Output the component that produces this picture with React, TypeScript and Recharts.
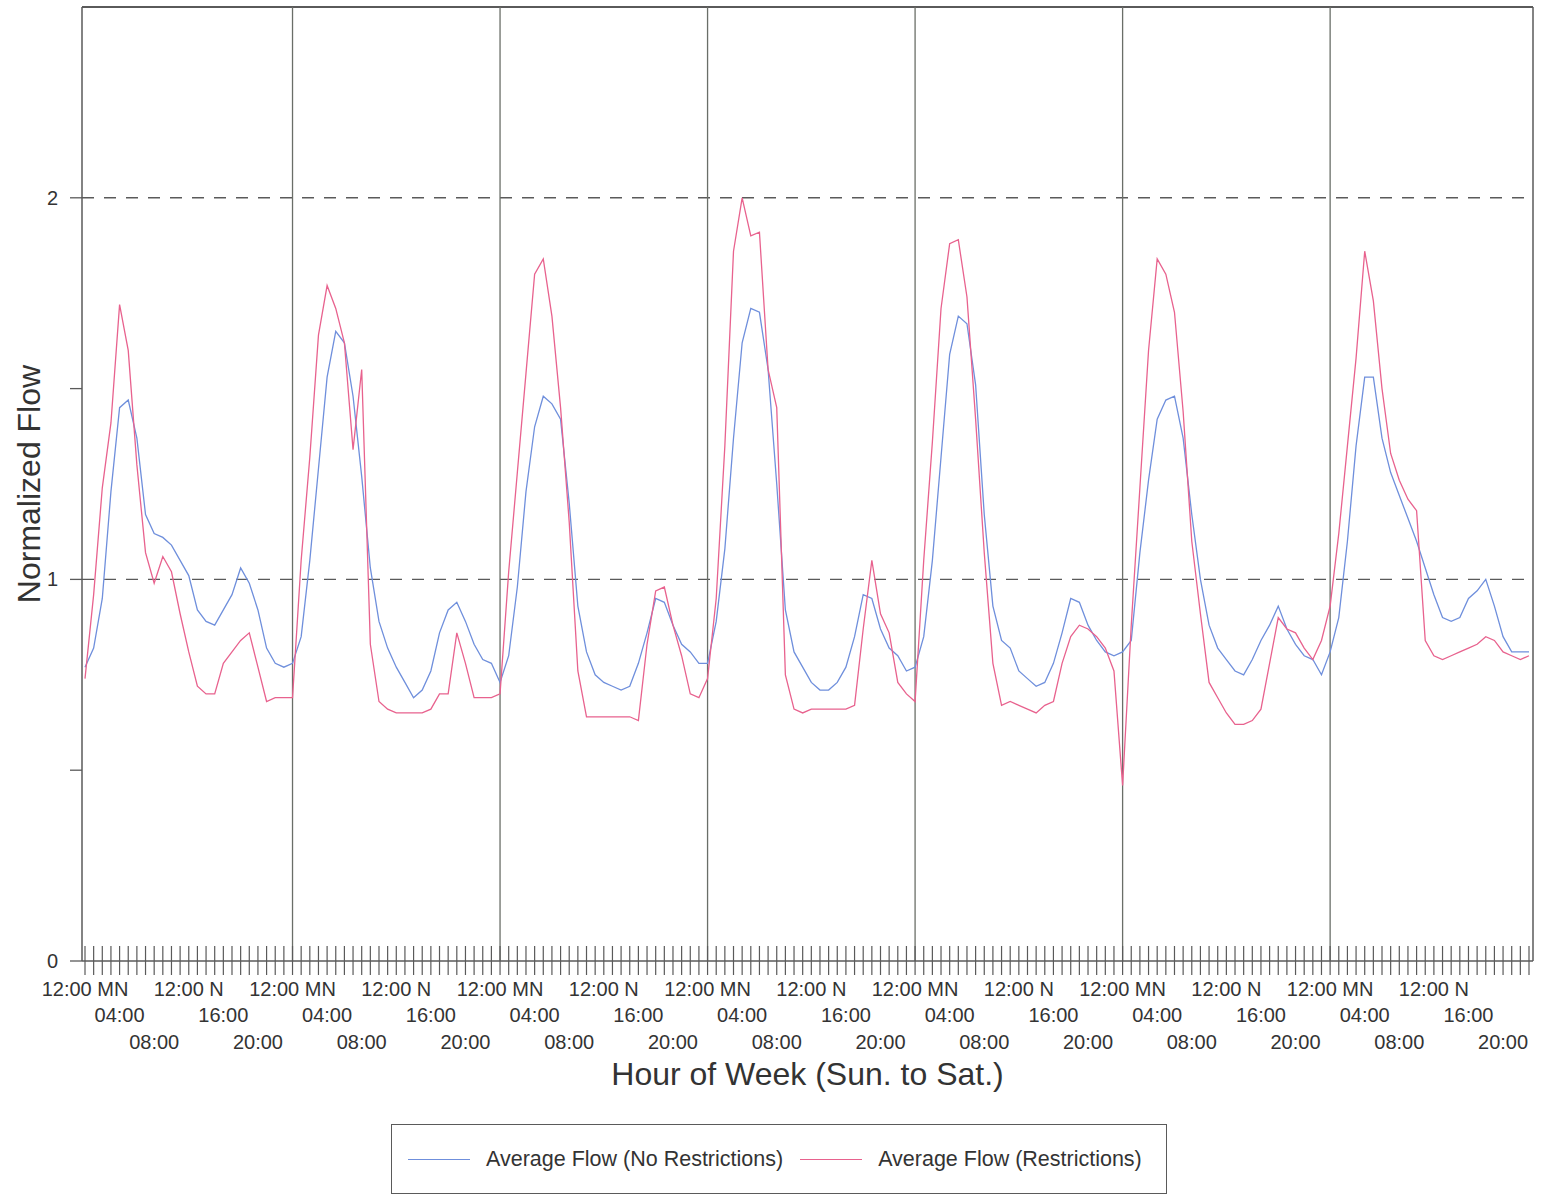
import { LineChart, Line, XAxis, YAxis, ReferenceLine } from "recharts";

// tick labels repeat every 4 hours within each day
const hourLabels = ["12:00 MN", "04:00", "08:00", "12:00 N", "16:00", "20:00"];
const dayStarts = [24, 48, 72, 96, 120, 144];
const flowTicks = [0, 0.5, 1, 1.5, 2];
const flowLabels = [0, 1, 2];
const flowGrid = [1, 2];
const flowMax = 2.5;

const seriesNames = ["Average Flow (No Restrictions)", "Average Flow (Restrictions)"];
const seriesColors = ["#6f8fdc", "#e8628e"];

// hourly normalized flow, Sunday 00:00 .. Saturday 23:00
const noRestrictions = [
  0.77, 0.82, 0.95, 1.23, 1.45, 1.47, 1.37, 1.17, 1.12, 1.11, 1.09, 1.05, 1.01, 0.92, 0.89, 0.88, 0.92, 0.96, 1.03, 0.99, 0.92, 0.82, 0.78, 0.77,
  0.78, 0.85, 1.05, 1.29, 1.53, 1.65, 1.62, 1.48, 1.27, 1.03, 0.89, 0.82, 0.77, 0.73, 0.69, 0.71, 0.76, 0.86, 0.92, 0.94, 0.89, 0.83, 0.79, 0.78,
  0.73, 0.8, 0.98, 1.23, 1.4, 1.48, 1.46, 1.42, 1.2, 0.93, 0.81, 0.75, 0.73, 0.72, 0.71, 0.72, 0.78, 0.86, 0.95, 0.94, 0.88, 0.83, 0.81, 0.78,
  0.78, 0.89, 1.08, 1.37, 1.62, 1.71, 1.7, 1.55, 1.25, 0.92, 0.81, 0.77, 0.73, 0.71, 0.71, 0.73, 0.77, 0.85, 0.96, 0.95, 0.87, 0.82, 0.8, 0.76,
  0.77, 0.85, 1.05, 1.32, 1.59, 1.69, 1.67, 1.51, 1.17, 0.93, 0.84, 0.82, 0.76, 0.74, 0.72, 0.73, 0.78, 0.86, 0.95, 0.94, 0.88, 0.84, 0.81, 0.8,
  0.81, 0.84, 1.07, 1.26, 1.42, 1.47, 1.48, 1.37, 1.17, 1.0, 0.88, 0.82, 0.79, 0.76, 0.75, 0.79, 0.84, 0.88, 0.93, 0.87, 0.83, 0.8, 0.79, 0.75,
  0.81, 0.9, 1.1, 1.35, 1.53, 1.53, 1.37, 1.28, 1.22, 1.16, 1.1, 1.03, 0.96, 0.9, 0.89, 0.9, 0.95, 0.97, 1.0, 0.93, 0.85, 0.81, 0.81, 0.81,
];

const restrictions = [
  0.74, 0.96, 1.24, 1.41, 1.72, 1.6, 1.3, 1.07, 0.99, 1.06, 1.02, 0.91, 0.81, 0.72, 0.7, 0.7, 0.78, 0.81, 0.84, 0.86, 0.77, 0.68, 0.69, 0.69,
  0.69, 1.05, 1.32, 1.64, 1.77, 1.71, 1.62, 1.34, 1.55, 0.83, 0.68, 0.66, 0.65, 0.65, 0.65, 0.65, 0.66, 0.7, 0.7, 0.86, 0.78, 0.69, 0.69, 0.69,
  0.7, 1.02, 1.28, 1.54, 1.8, 1.84, 1.69, 1.45, 1.15, 0.76, 0.64, 0.64, 0.64, 0.64, 0.64, 0.64, 0.63, 0.83, 0.97, 0.98, 0.88, 0.8, 0.7, 0.69,
  0.74, 0.95, 1.35, 1.86, 2.0, 1.9, 1.91, 1.55, 1.45, 0.75, 0.66, 0.65, 0.66, 0.66, 0.66, 0.66, 0.66, 0.67, 0.87, 1.05, 0.91, 0.86, 0.73, 0.7,
  0.68, 1.05, 1.36, 1.71, 1.88, 1.89, 1.74, 1.42, 1.07, 0.78, 0.67, 0.68, 0.67, 0.66, 0.65, 0.67, 0.68, 0.78, 0.85, 0.88, 0.87, 0.85, 0.82, 0.76,
  0.46, 0.88, 1.24, 1.6, 1.84, 1.8, 1.7, 1.44, 1.1, 0.91, 0.73, 0.69, 0.65, 0.62, 0.62, 0.63, 0.66, 0.78, 0.9, 0.87, 0.86, 0.82, 0.79, 0.84,
  0.93, 1.12, 1.35, 1.58, 1.86, 1.73, 1.5, 1.33, 1.26, 1.21, 1.18, 0.84, 0.8, 0.79, 0.8, 0.81, 0.82, 0.83, 0.85, 0.84, 0.81, 0.8, 0.79, 0.8,
];

const data = noRestrictions.map((v, i) => ({ hour: i, base: v, restricted: restrictions[i] }));
const hourTicks = data.map((d) => d.hour);

const FONT = "'Liberation Sans', Arial, sans-serif";
const INK = "#333";
const FRAME = "#5a5a5a";

function HourTick(props: any) {
  const { x, y, payload } = props;
  const hd = payload.value % 24;
  const label = hd % 4 === 0 ? hourLabels[hd / 4] : null;
  const dy = [35, 61, 88][(hd / 4) % 3];
  return (
    <g>
      <line x1={x} x2={x} y1={y - 15} y2={y + 14} stroke={FRAME} strokeWidth={1.2} />
      {label && (
        <text x={x} y={y + dy} textAnchor="middle" fontSize={20} fill={INK} fontFamily={FONT}>
          {label}
        </text>
      )}
    </g>
  );
}

function FlowTick(props: any) {
  const { x, y, payload } = props;
  if (!flowLabels.includes(payload.value)) return <g />;
  return (
    <text x={x} y={y} dy={7} textAnchor="end" fontSize={20} fill={INK} fontFamily={FONT}>
      {payload.value}
    </text>
  );
}

function LegendBox() {
  return (
    <div
      style={{
        position: "absolute",
        left: 391,
        top: 1124,
        width: 776,
        height: 70,
        boxSizing: "border-box",
        border: `1.5px solid ${FRAME}`,
        display: "flex",
        alignItems: "center",
        paddingLeft: 16,
        fontFamily: FONT,
        fontSize: 21.5,
        color: INK,
      }}
    >
      {seriesNames.map((name, i) => (
        <div key={name} style={{ display: "flex", alignItems: "center", marginLeft: i === 0 ? 0 : 17 }}>
          <span style={{ width: 62, borderTop: `1.5px solid ${seriesColors[i]}`, marginRight: 16 }} />
          <span>{name}</span>
        </div>
      ))}
    </div>
  );
}

export default function App() {
  return (
    <div style={{ position: "absolute", left: 0, top: 0, width: 1545, height: 1197, background: "#fff" }}>
      <LineChart width={1545} height={1197} data={data} margin={{ top: 7, right: 11, bottom: 235, left: 81 }}>
        <XAxis
          dataKey="hour"
          type="number"
          domain={[0, 167]}
          padding={{ left: 3, right: 4 }}
          ticks={hourTicks}
          interval={0}
          height={1}
          tickSize={0}
          tickMargin={0}
          tickLine={false}
          tick={<HourTick />}
          axisLine={{ stroke: FRAME, strokeWidth: 1.5 }}
          label={{
            content: (p: any) => (
              <text
                x={p.viewBox.x + p.viewBox.width / 2}
                y={961 + 124}
                textAnchor="middle"
                fontSize={32}
                fill={INK}
                fontFamily={FONT}
              >
                Hour of Week (Sun. to Sat.)
              </text>
            ),
          }}
        />
        <YAxis
          type="number"
          domain={[0, flowMax]}
          ticks={flowTicks}
          interval={0}
          width={1}
          tickSize={12}
          tickMargin={12}
          tickLine={{ stroke: FRAME, strokeWidth: 1.3 }}
          tick={<FlowTick />}
          axisLine={{ stroke: FRAME, strokeWidth: 1.5 }}
          label={{
            content: (p: any) => {
              const cy = p.viewBox.y + p.viewBox.height / 2;
              return (
                <text x={40} y={cy} textAnchor="middle" fontSize={32} fill={INK} fontFamily={FONT} transform={`rotate(-90, 40, ${cy})`}>
                  Normalized Flow
                </text>
              );
            },
          }}
        />
        <YAxis yAxisId="right" orientation="right" width={1} tick={false} tickLine={false} axisLine={{ stroke: FRAME, strokeWidth: 1.5 }} />
        {/* top edge of the frame */}
        <ReferenceLine y={flowMax} stroke={FRAME} strokeWidth={2} ifOverflow="visible" />
        {flowGrid.map((v) => (
          <ReferenceLine key={`g${v}`} y={v} stroke={FRAME} strokeWidth={1.4} strokeDasharray="12 10" />
        ))}
        {dayStarts.map((h) => (
          <ReferenceLine key={`d${h}`} x={h} stroke="#6a6e68" strokeWidth={1.3} />
        ))}
        <Line type="linear" dataKey="base" name={seriesNames[0]} stroke={seriesColors[0]} strokeWidth={1.3} dot={false} isAnimationActive={false} />
        <Line type="linear" dataKey="restricted" name={seriesNames[1]} stroke={seriesColors[1]} strokeWidth={1.3} dot={false} isAnimationActive={false} />
      </LineChart>
      <LegendBox />
    </div>
  );
}
